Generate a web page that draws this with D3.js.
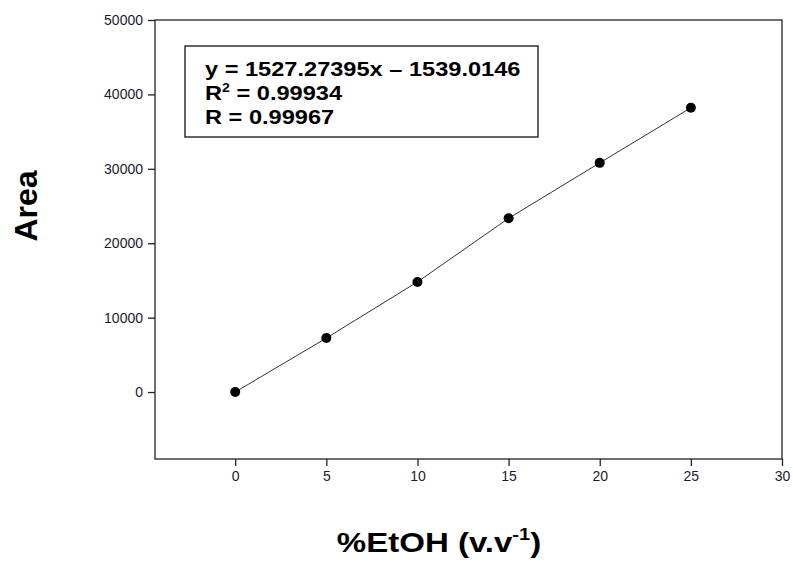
<!DOCTYPE html>
<html>
<head>
<meta charset="utf-8">
<script src="https://cdn.jsdelivr.net/npm/d3@7"></script>
<style>
  body { margin: 0; background: #fff; }
  svg { display: block; }
  text { font-family: Arial, "Liberation Sans", sans-serif; }
</style>
</head>
<body>
<script>
// data
const etoh = [0, 5, 10, 15, 20, 25]
const area = [0, 7250, 14800, 23350, 30800, 38200]
const xTicks = [0, 5, 10, 15, 20, 25, 30]
const yTicks = [0, 10000, 20000, 30000, 40000, 50000]
const fitLines = ['y = 1527.27395x \u2013 1539.0146', 'R', 'R = 0.99967']

const fullWidth = 793
const fullHeight = 564
const margin = { top: 20, right: 11, bottom: 105, left: 155 }
const width = fullWidth - margin.left - margin.right
const height = fullHeight - margin.top - margin.bottom
const tickColor = '#1a1a2e'

const svg = d3.select('body')
  .append('svg')
  .attr('width', fullWidth)
  .attr('height', fullHeight)

const x = d3.scaleLinear()
  .domain([-4.4, 30])
  .range([margin.left, margin.left + width])

const y = d3.scaleLinear()
  .domain([-9000, 50000])
  .range([margin.top + height, margin.top])

// frame
svg.append('rect')
  .attr('x', margin.left)
  .attr('y', margin.top)
  .attr('width', width)
  .attr('height', height)
  .attr('fill', 'none')
  .attr('stroke', '#222')
  .attr('stroke-width', 1.3)

const xAxis = svg.append('g')
  .attr('transform', `translate(0,${margin.top + height})`)
  .call(d3.axisBottom(x).tickValues(xTicks).tickSize(7).tickSizeOuter(0).tickPadding(5))
const yAxis = svg.append('g')
  .attr('transform', `translate(${margin.left},0)`)
  .call(d3.axisLeft(y).tickValues(yTicks).tickSize(7).tickSizeOuter(0).tickPadding(5).tickFormat(d3.format('d')))

;[xAxis, yAxis].forEach(ax => {
  ax.select('.domain').remove()
  ax.selectAll('.tick line').attr('stroke', '#222').attr('stroke-width', 1.3)
  ax.selectAll('.tick text')
    .attr('font-size', 14)
    .attr('font-family', 'Arial, "Liberation Sans", sans-serif')
    .attr('fill', tickColor)
})

// line through the points
const pts = etoh.map((e, i) => ({ e: e, a: area[i] }))
const line = d3.line()
  .x(d => x(d.e))
  .y(d => y(d.a))

svg.append('path')
  .datum(pts)
  .attr('fill', 'none')
  .attr('stroke', '#333')
  .attr('stroke-width', 1)
  .attr('d', line)

svg.selectAll('.dot')
  .data(pts)
  .enter().append('circle')
  .attr('class', 'dot')
  .attr('cx', d => x(d.e))
  .attr('cy', d => y(d.a))
  .attr('r', 5)
  .attr('fill', '#000')

// regression box
svg.append('rect')
  .attr('x', 185)
  .attr('y', 46)
  .attr('width', 353)
  .attr('height', 91)
  .attr('fill', '#fff')
  .attr('stroke', '#111')
  .attr('stroke-width', 1.3)

const eq = svg.append('g')
  .attr('transform', 'translate(205,0) scale(1.18,1)')
  .attr('font-weight', 'bold')
  .attr('font-size', 20)
  .attr('fill', '#000')

eq.append('text').attr('y', 76).text(fitLines[0])
const r2 = eq.append('text').attr('y', 100)
r2.append('tspan').text(fitLines[1])
r2.append('tspan').attr('font-size', 12).attr('dy', -8).text('2')
r2.append('tspan').attr('dy', 8).text(' = 0.99934')
eq.append('text').attr('y', 124).text(fitLines[2])

// axis titles
const xt = svg.append('text')
  .attr('transform', 'translate(439,552) scale(1.18,1)')
  .attr('text-anchor', 'middle')
  .attr('font-weight', 'bold')
  .attr('font-size', 28)
xt.append('tspan').text('%EtOH (v.v')
xt.append('tspan').attr('font-size', 17).attr('dy', -12).text('-1')
xt.append('tspan').attr('dy', 12).text(')')

svg.append('text')
  .attr('transform', 'translate(37,206) rotate(-90)')
  .attr('text-anchor', 'middle')
  .attr('font-weight', 'bold')
  .attr('font-size', 32)
  .text('Area')
</script>
</body>
</html>
